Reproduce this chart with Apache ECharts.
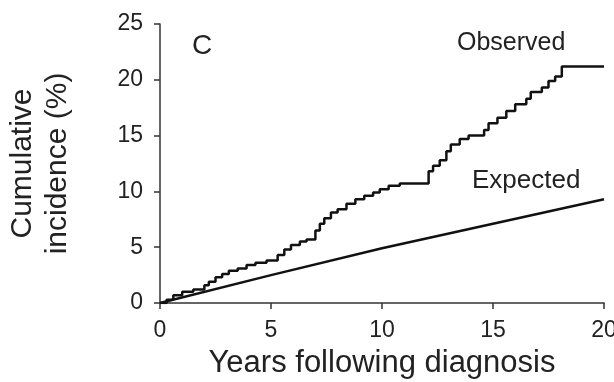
<!DOCTYPE html>
<html>
<head>
<meta charset="utf-8">
<script src="https://cdn.jsdelivr.net/npm/echarts@6/dist/echarts.min.js"></script>
<style>
  html, body { margin: 0; padding: 0; background: #fff; }
  #chart { width: 614px; height: 382px; }
</style>
</head>
<body>
<div id="chart"></div>
<script>
// Observed cumulative incidence: event times (years) and value after each step (%)
const obsYears = [0, 0.3, 0.6, 1.0, 1.5, 2.0, 2.2, 2.5, 2.8, 3.1, 3.5, 3.9, 4.3, 4.8,
  5.3, 5.6, 5.9, 6.3, 6.6, 7.0, 7.2, 7.4, 7.7, 8.0, 8.4, 8.8, 9.2, 9.6, 9.9,
  10.3, 10.8, 12.1, 12.3, 12.6, 12.9, 13.1, 13.5, 13.9, 14.6, 14.8, 15.2, 15.6,
  16.0, 16.5, 16.7, 17.2, 17.5, 17.8, 18.1, 20.0];
const obsIncidence = [0, 0.3, 0.7, 1.0, 1.2, 1.6, 1.9, 2.3, 2.6, 2.9, 3.1, 3.4, 3.6, 3.8,
  4.3, 4.8, 5.2, 5.5, 5.7, 6.5, 7.1, 7.6, 8.1, 8.4, 8.9, 9.3, 9.6, 9.9, 10.2,
  10.5, 10.7, 11.8, 12.3, 12.8, 13.6, 14.2, 14.7, 15.0, 15.5, 16.1, 16.6, 17.2,
  17.8, 18.3, 18.9, 19.3, 19.9, 20.3, 21.2, 21.2];

// Expected cumulative incidence
const expYears = [0, 5, 10, 15, 20];
const expIncidence = [0, 2.5, 4.9, 7.1, 9.3];

// Axis ticks
const xTicks = [0, 5, 10, 15, 20];
const yTicks = [0, 5, 10, 15, 20, 25];

const seriesLabels = ['Observed', 'Expected'];
const panelLabel = 'C';

const FONT = '"Liberation Sans", Arial, Helvetica, sans-serif';
const INK = '#222';

const chart = echarts.init(document.getElementById('chart'), null, { renderer: 'canvas' });

chart.setOption({
  animation: false,
  backgroundColor: '#fff',
  grid: { left: 160, right: 10, top: 24, bottom: 79, containLabel: false, outerBoundsMode: 'none' },
  xAxis: {
    type: 'value',
    min: xTicks[0],
    max: xTicks[xTicks.length - 1],
    interval: xTicks[1] - xTicks[0],
    name: 'Years following diagnosis',
    nameLocation: 'middle',
    nameGap: 45,
    nameTextStyle: { fontFamily: FONT, fontSize: 31, color: INK },
    axisLine: { lineStyle: { color: '#333', width: 1.5 } },
    axisTick: { show: true, length: 6, lineStyle: { color: '#333', width: 1.5 } },
    axisLabel: { margin: 16, fontFamily: FONT, fontSize: 23, color: INK },
    splitLine: { show: false }
  },
  yAxis: {
    type: 'value',
    min: yTicks[0],
    max: yTicks[yTicks.length - 1],
    interval: yTicks[1] - yTicks[0],
    name: 'Cumulative\nincidence (%)',
    nameLocation: 'middle',
    nameRotate: 90,
    nameGap: 85,
    nameTextStyle: { fontFamily: FONT, fontSize: 30, color: INK, lineHeight: 35 },
    axisLine: { show: true, lineStyle: { color: '#333', width: 1.5 } },
    axisTick: { show: true, length: 6, lineStyle: { color: '#333', width: 1.5 } },
    axisLabel: { margin: 17, fontFamily: FONT, fontSize: 23, color: INK },
    splitLine: { show: false }
  },
  series: [
    {
      name: seriesLabels[0],
      type: 'line',
      step: 'end',
      showSymbol: false,
      data: obsYears.map((x, i) => [x, obsIncidence[i]]),
      lineStyle: { color: '#111', width: 2.5 },
      z: 3
    },
    {
      name: seriesLabels[1],
      type: 'line',
      showSymbol: false,
      data: expYears.map((x, i) => [x, expIncidence[i]]),
      lineStyle: { color: '#111', width: 2.5 },
      z: 2
    }
  ],
  graphic: [
    {
      type: 'text', left: 457, top: 31,
      style: { text: seriesLabels[0], font: '25px ' + FONT, fill: INK }
    },
    {
      type: 'text', left: 472, top: 168,
      style: { text: seriesLabels[1], font: '26px ' + FONT, fill: INK }
    },
    {
      type: 'text', left: 192, top: 32,
      style: { text: panelLabel, font: '28px ' + FONT, fill: INK }
    }
  ]
});
</script>
</body>
</html>
